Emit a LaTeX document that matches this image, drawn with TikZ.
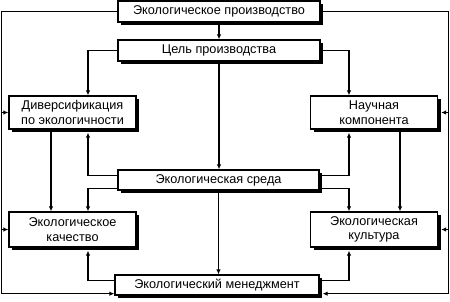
\documentclass[tikz,border=0pt]{standalone}
\usepackage{fontspec}
\setmainfont{Liberation Sans}
\usetikzlibrary{arrows.meta,shadows,calc}
\begin{document}
\begin{tikzpicture}[x=1pt,y=-1pt,
  box/.style={draw, line width=1.3pt, fill=white, inner sep=0pt, align=center,
    font=\fontsize{12.7}{14.5}\selectfont,
    drop shadow={shadow xshift=3pt, shadow yshift=-3pt, opacity=1, fill=black}},
  arr/.style={line width=1.15pt, -{Latex[length=5pt,width=4.5pt]}}]
\useasboundingbox (0,0) rectangle (450,301);
\node[box, minimum width=202pt, minimum height=21pt] (top) at (219,11.5) {Экологическое производство};
\node[box, minimum width=202pt, minimum height=21pt] (cel) at (219,50.5) {Цель производства};
\node[box, minimum width=127pt, minimum height=33pt] (div) at (72.5,112.5) {Диверсификация\\по экологичности};
\node[box, minimum width=127pt, minimum height=33pt] (nauch) at (374,112.5) {Научная\\компонента};
\node[box, minimum width=201pt, minimum height=20pt] (sreda) at (218.5,180) {Экологическая среда};
\node[box, minimum width=127pt, minimum height=35pt] (kach) at (72.5,229.5) {Экологическое\\качество};
\node[box, minimum width=127pt, minimum height=35pt] (kult) at (374,229.5) {Экологическая\\культура};
\node[box, minimum width=204pt, minimum height=20pt] (men) at (217,285) {Экологический менеджмент};
\coordinate (L) at (1.5,0);
\coordinate (R) at (448.5,0);
\coordinate (xa) at (88,0);
\coordinate (xb) at (349,0);
\coordinate (xc) at (51,0);
\coordinate (xd) at (400,0);
\coordinate (mL) at ([yshift=2pt]men.south west);
\coordinate (mR) at ([yshift=2pt]men.south east);
\coordinate (sW1) at ([yshift=-6pt]sreda.north west);
\coordinate (sW2) at ([yshift=2pt]sreda.south west);
\coordinate (sE1) at ([yshift=-6pt]sreda.north east);
\coordinate (sE2) at ([yshift=2pt]sreda.south east);
\coordinate (mW) at ([yshift=-6pt]men.north west);
\coordinate (mE) at ([yshift=-6pt]men.north east);
% outer loop
\draw[arr] (top.west) -| (L |- mL) -- (mL);
\draw[arr] (L |- div.west) -- (div.west);
\draw[arr] (L |- kach.west) -- (kach.west);
\draw[arr, shorten >=3pt] (top.east) -| (R |- mR) -- (mR);
\draw[arr, shorten >=3pt] (R |- nauch.east) -- (nauch.east);
\draw[arr, shorten >=3pt] (R |- kult.east) -- (kult.east);
% top to cel
\draw[arr] (top.south) -- (cel.north);
\draw[arr] (cel.west) -| (xa |- div.north);
\draw[arr] (cel.east) -| (xb |- nauch.north);
\draw[arr] (cel.south) -- (cel.south |- sreda.north);
% sreda
\draw[arr, shorten >=3pt] (sW1) -| (xa |- div.south);
\draw[arr] (sW2) -| (xa |- kach.north);
\draw[arr, shorten >=3pt] (sE1) -| (xb |- nauch.south);
\draw[arr] (sE2) -| (xb |- kult.north);
\draw[arr] (sreda.south) -- (sreda.south |- men.north);
% vertical side
\draw[arr] (xc |- div.south) -- (xc |- kach.north);
\draw[arr] (xd |- nauch.south) -- (xd |- kult.north);
% men
\draw[arr, shorten >=3pt] (mW) -| (xa |- kach.south);
\draw[arr, shorten >=3pt] (mE) -| (xb |- kult.south);
\end{tikzpicture}
\end{document}
